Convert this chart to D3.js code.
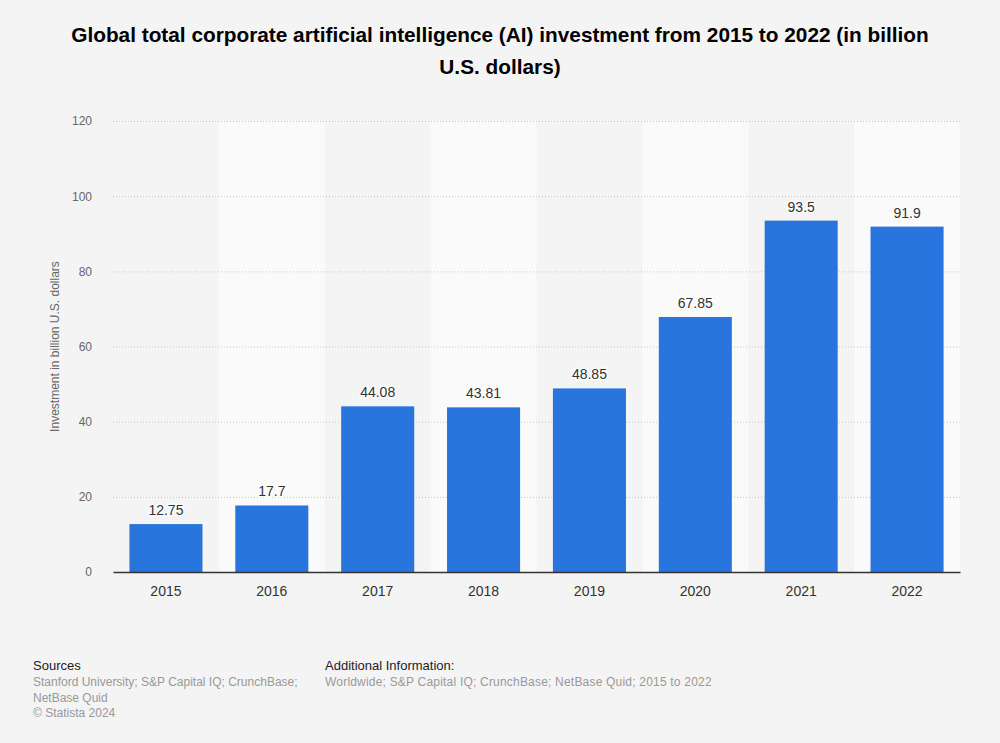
<!DOCTYPE html>
<html><head><meta charset="utf-8">
<script src="https://cdn.jsdelivr.net/npm/d3@7"></script>
<style>
body{margin:0;background:#f4f4f4;}
svg{display:block;font-family:"Liberation Sans",Arial,sans-serif;}
</style></head>
<body><svg id="c" width="1000" height="743"></svg>
<script>
const categories = ["2015","2016","2017","2018","2019","2020","2021","2022"];
const values = [12.75, 17.7, 44.08, 43.81, 48.85, 67.85, 93.5, 91.9];
const valueLabels = ["12.75","17.7","44.08","43.81","48.85","67.85","93.5","91.9"];
const yTicks = [0, 20, 40, 60, 80, 100, 120];
const titleLines = ["Global total corporate artificial intelligence (AI) investment from 2015 to 2022 (in billion","U.S. dollars)"];
const yAxisTitle = "Investment in billion U.S. dollars";
const sourcesLines = ["Stanford University; S&P Capital IQ; CrunchBase;","NetBase Quid","© Statista 2024"];
const addInfoLines = ["Worldwide; S&P Capital IQ; CrunchBase; NetBase Quid; 2015 to 2022"];

const svg = d3.select("#c");
const L = 113, R = 960, T = 121, B = 572;

svg.append("rect").attr("width",1000).attr("height",743).attr("fill","#f4f4f4");

// title
svg.append("g").selectAll("text").data(titleLines).join("text")
  .attr("x",500).attr("y",(d,i)=>42+i*32).attr("text-anchor","middle")
  .attr("font-size",20.8).attr("font-weight","bold").attr("fill","#000")
  .text(d=>d);

const xBand = d3.scaleBand().domain(categories).range([L,R]).padding(0);
const xBar = d3.scaleBand().domain(categories).range([L,R]).paddingInner(0.31).paddingOuter(0.155);
const y = d3.scaleLinear().domain([0,120]).range([B,T]);

// alternate bands
svg.append("g").selectAll("rect").data(categories.filter((d,i)=>i%2===1)).join("rect")
  .attr("x",d=>xBand(d)).attr("y",T).attr("width",xBand.bandwidth()).attr("height",B-T)
  .attr("fill","#fafafa");

// gridlines
const yAxis = svg.append("g").attr("transform",`translate(${L},0)`)
  .call(d3.axisLeft(y).tickValues(yTicks).tickSize(-(R-L)).tickPadding(21));
yAxis.select(".domain").remove();
yAxis.selectAll(".tick line").attr("stroke","#c8c8c8").attr("stroke-dasharray","1,2");
yAxis.selectAll(".tick text").attr("font-size",12).attr("fill","#666").attr("font-family","Liberation Sans, Arial, sans-serif");
yAxis.selectAll(".tick").filter(d=>d===0).select("line").remove();

// bars
svg.append("g").selectAll("rect").data(values).join("rect")
  .attr("x",(d,i)=>xBar(categories[i])).attr("y",d=>y(d))
  .attr("width",xBar.bandwidth()).attr("height",d=>B-y(d))
  .attr("fill","#2876dd");

// value labels
svg.append("g").selectAll("text").data(values).join("text")
  .attr("x",(d,i)=>xBar(categories[i])+xBar.bandwidth()/2).attr("y",d=>y(d)-9)
  .attr("text-anchor","middle").attr("font-size",14).attr("fill","#333")
  .attr("stroke","#ffffff").attr("stroke-width",3).attr("stroke-opacity",0.7).attr("paint-order","stroke")
  .text((d,i)=>valueLabels[i]);

// x axis
const xAxis = svg.append("g").attr("transform",`translate(0,${B})`)
  .call(d3.axisBottom(xBand).tickSize(0).tickPadding(14));
xAxis.select(".domain").attr("stroke","#333").attr("stroke-width",1.5);
xAxis.selectAll(".tick text").attr("font-size",14).attr("fill","#333").attr("font-family","Liberation Sans, Arial, sans-serif");

// y axis title
svg.append("text").attr("transform",`translate(59,${(T+B)/2}) rotate(-90)`)
  .attr("text-anchor","middle").attr("font-size",12).attr("fill","#666").text(yAxisTitle);

// footer
svg.append("text").attr("x",33).attr("y",670).attr("font-size",13).attr("fill","#222").text("Sources");
svg.append("g").selectAll("text").data(sourcesLines).join("text")
  .attr("x",33).attr("y",(d,i)=>686+i*15.5).attr("font-size",12).attr("fill","#999").text(d=>d);
svg.append("text").attr("x",325).attr("y",670).attr("font-size",13).attr("fill","#222").text("Additional Information:");
svg.append("g").selectAll("text").data(addInfoLines).join("text")
  .attr("x",325).attr("y",(d,i)=>686+i*15.5).attr("font-size",12).attr("fill","#999").attr("letter-spacing",0.2).text(d=>d);
</script></body></html>
